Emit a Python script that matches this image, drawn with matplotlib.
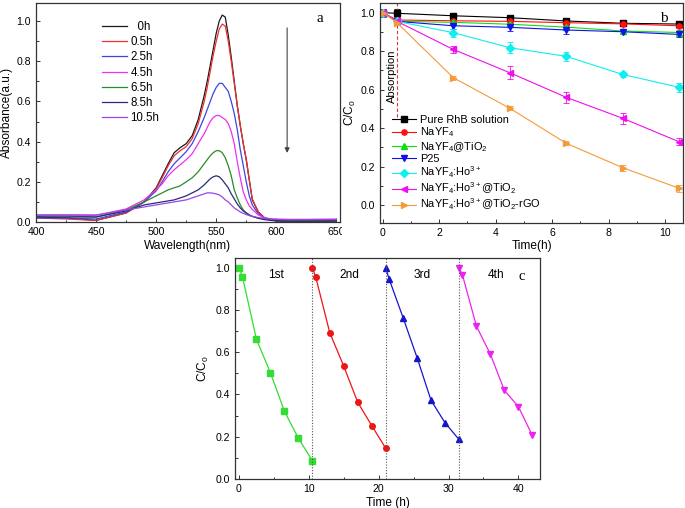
import matplotlib
matplotlib.use("Agg")
import matplotlib.pyplot as plt
from matplotlib.patches import Rectangle
from matplotlib.ticker import MultipleLocator

plt.rcParams['font.family'] = ['Liberation Sans', 'DejaVu Sans']
plt.rcParams['mathtext.fontset'] = 'custom'
plt.rcParams['mathtext.rm'] = 'Liberation Sans'
plt.rcParams['mathtext.it'] = 'Liberation Sans:italic'
plt.rcParams['mathtext.bf'] = 'Liberation Sans:bold'

# ---------------- Panel a: absorption spectra ----------------
wavelength = [400, 425, 450, 475, 490, 500, 505, 510, 515, 520, 525, 530, 535, 540, 542.5,
              545, 547.5, 550, 552.5, 555, 557.5, 560, 562.5, 565, 567.5, 570, 572.5, 575,
              577.5, 580, 585, 590, 595, 600, 610, 625, 650]
abs_0h = [0.025, 0.02, 0.008, 0.045, 0.10, 0.17, 0.23, 0.29, 0.345, 0.37, 0.39, 0.43, 0.51, 0.63, 0.70,
          0.78, 0.86, 0.94, 1.00, 1.03, 1.02, 0.93, 0.82, 0.70, 0.58, 0.48, 0.39, 0.31,
          0.21, 0.11, 0.05, 0.022, 0.012, 0.006, 0.003, 0.003, 0.005]
abs_05h = [0.02, 0.015, 0.008, 0.045, 0.10, 0.165, 0.22, 0.28, 0.33, 0.355, 0.375, 0.415, 0.49, 0.60, 0.67,
           0.75, 0.83, 0.90, 0.96, 0.985, 0.975, 0.90, 0.80, 0.69, 0.58, 0.48, 0.39, 0.31,
           0.21, 0.115, 0.05, 0.022, 0.012, 0.006, 0.004, 0.004, 0.005]
abs_25h = [0.02, 0.02, 0.015, 0.05, 0.10, 0.155, 0.20, 0.25, 0.29, 0.32, 0.35, 0.39, 0.45, 0.52, 0.56,
           0.60, 0.64, 0.67, 0.69, 0.69, 0.67, 0.65, 0.60, 0.54, 0.46, 0.36, 0.28, 0.20,
           0.13, 0.085, 0.04, 0.02, 0.01, 0.006, 0.005, 0.006, 0.008]
abs_45h = [0.035, 0.035, 0.033, 0.065, 0.11, 0.16, 0.19, 0.23, 0.26, 0.285, 0.31, 0.34, 0.39, 0.44, 0.47,
           0.50, 0.52, 0.53, 0.53, 0.52, 0.51, 0.49, 0.45, 0.39, 0.30, 0.22, 0.15, 0.11,
           0.08, 0.063, 0.035, 0.022, 0.016, 0.014, 0.013, 0.013, 0.014]
abs_65h = [0.03, 0.03, 0.025, 0.06, 0.10, 0.13, 0.145, 0.16, 0.17, 0.18, 0.20, 0.22, 0.25, 0.29, 0.31,
           0.33, 0.345, 0.355, 0.355, 0.345, 0.32, 0.28, 0.23, 0.16, 0.12, 0.085, 0.06, 0.045,
           0.035, 0.028, 0.02, 0.015, 0.012, 0.01, 0.008, 0.008, 0.01]
abs_85h = [0.025, 0.025, 0.025, 0.055, 0.085, 0.095, 0.10, 0.105, 0.11, 0.12, 0.13, 0.145, 0.16, 0.185, 0.20,
           0.215, 0.225, 0.23, 0.225, 0.21, 0.19, 0.17, 0.14, 0.115, 0.09, 0.07, 0.055, 0.045,
           0.035, 0.028, 0.018, 0.012, 0.008, 0.006, 0.004, 0.004, 0.005]
abs_105h = [0.035, 0.035, 0.035, 0.06, 0.075, 0.085, 0.09, 0.095, 0.10, 0.105, 0.11, 0.12, 0.13, 0.14, 0.145,
            0.145, 0.143, 0.14, 0.135, 0.125, 0.11, 0.10, 0.085, 0.07, 0.06, 0.05, 0.043, 0.037,
            0.032, 0.028, 0.022, 0.018, 0.015, 0.013, 0.012, 0.012, 0.013]
spectra_labels = ['  0h', '0.5h', '2.5h', '4.5h', '6.5h', '8.5h', '10.5h']
spectra_colors = ['#1a1a1a', '#ee3030', '#3a46e0', '#ee30ee', '#2a8a2a', '#2a2a7a', '#9a44ee']

# ---------------- Panel b: degradation curves ----------------
time_b = [0, 0.5, 2.5, 4.5, 6.5, 8.5, 10.5]
pure_rhb = [1.0, 0.997, 0.984, 0.974, 0.957, 0.945, 0.941]
nayf4 = [1.0, 0.962, 0.958, 0.955, 0.948, 0.942, 0.932]
nayf4_tio2 = [1.0, 0.955, 0.950, 0.940, 0.925, 0.905, 0.897]
p25 = [1.0, 0.955, 0.932, 0.924, 0.910, 0.901, 0.887]
nayf4_ho = [1.0, 0.955, 0.896, 0.818, 0.773, 0.679, 0.612]
nayf4_ho_tio2 = [1.0, 0.955, 0.809, 0.688, 0.560, 0.451, 0.329]
nayf4_ho_tio2_rgo = [1.0, 0.948, 0.662, 0.503, 0.321, 0.194, 0.087]
err_pure = [0.02, 0.02, 0.015, 0.015, 0.015, 0.012, 0.012]
err_nayf4 = [0.02, 0.015, 0.012, 0.012, 0.012, 0.012, 0.012]
err_nayf4_tio2 = [0.02, 0.015, 0.012, 0.012, 0.012, 0.012, 0.012]
err_p25 = [0.02, 0.015, 0.015, 0.02, 0.02, 0.012, 0.012]
err_ho = [0.02, 0.015, 0.02, 0.028, 0.022, 0.015, 0.022]
err_ho_tio2 = [0.02, 0.015, 0.02, 0.035, 0.028, 0.028, 0.018]
err_ho_rgo = [0.01, 0.01, 0.01, 0.01, 0.01, 0.015, 0.018]
labels_b = ['Pure RhB solution', 'NaYF$_4$', 'NaYF$_4$@TiO$_2$', 'P25', 'NaYF$_4$:Ho$^{3+}$',
            'NaYF$_4$:Ho$^{3+}$@TiO$_2$', 'NaYF$_4$:Ho$^{3+}$@TiO$_2$-rGO']
colors_b = ['#000000', '#ff1010', '#10dd10', '#1010ee', '#10eeee', '#ee10ee', '#f59a3a']
markers_b = ['s', 'o', '^', 'v', 'D', '<', '>']
absorption_end = 0.5
absorption_line_bottom = 0.46

# ---------------- Panel c: recycling ----------------
time_c1 = [0, 0.5, 2.5, 4.5, 6.5, 8.5, 10.5]
cycle1 = [1.0, 0.957, 0.661, 0.503, 0.321, 0.193, 0.087]
time_c2 = [10.5, 11, 13, 15, 17, 19, 21]
cycle2 = [1.0, 0.954, 0.692, 0.534, 0.363, 0.253, 0.146]
time_c3 = [21, 21.5, 23.5, 25.5, 27.5, 29.5, 31.5]
cycle3 = [1.0, 0.946, 0.763, 0.574, 0.372, 0.266, 0.187]
time_c4 = [31.5, 32, 34, 36, 38, 40, 42]
cycle4 = [1.0, 0.965, 0.723, 0.590, 0.419, 0.343, 0.206]
cycle_labels = ['1st', '2nd', '3rd', '4th']
cycle_colors = ['#33dd33', '#ee1515', '#1515cc', '#ee22ee']
cycle_markers = ['s', 'o', '^', 'v']
cycle_boundaries = [10.5, 21, 31.5]

W, H = 685, 508
fig = plt.figure(figsize=(W / 100, H / 100), dpi=100)

def rect(l, t, r, b):
    return [l / W, (H - b) / H, (r - l) / W, (b - t) / H]

def style(ax):
    for s in ax.spines.values():
        s.set_color('#333333')
        s.set_linewidth(0.9)
    ax.tick_params(which='both', direction='in', colors='#333333', labelcolor='black',
                   labelsize=7.6, width=0.7)
    ax.tick_params(which='major', length=3)
    ax.tick_params(which='minor', length=1.8)

# ---- a ----
axa = fig.add_axes(rect(36, 3, 340, 222))
spectra = [abs_0h, abs_05h, abs_25h, abs_45h, abs_65h, abs_85h, abs_105h]
for ys, lab, c in zip(spectra, spectra_labels, spectra_colors):
    axa.plot(wavelength, ys, color=c, lw=0.9, label=lab)
axa.set_xlim(400, 653)
axa.set_ylim(0, 1.09)
axa.xaxis.set_major_locator(MultipleLocator(50))
axa.xaxis.set_minor_locator(MultipleLocator(25))
axa.yaxis.set_major_locator(MultipleLocator(0.2))
axa.yaxis.set_minor_locator(MultipleLocator(0.1))
axa.yaxis.set_major_formatter(matplotlib.ticker.FormatStrFormatter('%.1f'))
style(axa)
axa.set_xlabel('Wavelength(nm)', fontsize=8.6, labelpad=2)
axa.set_ylabel('Absorbance(a.u.)', fontsize=8.6, labelpad=3)
axa.legend(loc='upper left', bbox_to_anchor=(0.19, 0.955), frameon=False, fontsize=8.3,
           handlelength=2.2, handletextpad=0.3, labelspacing=0.28, borderpad=0.2)
axa.annotate('', xy=(609, 0.33), xytext=(609, 0.98),
             arrowprops=dict(arrowstyle='-|>', color='#444444', lw=0.8, mutation_scale=7))
axa.text(0.935, 0.93, 'a', transform=axa.transAxes, fontsize=11, family='Liberation Serif',
         ha='center', va='center')

# ---- b ----
axb = fig.add_axes(rect(380, 2.7, 683.3, 222.7))
series_b = [pure_rhb, nayf4, nayf4_tio2, p25, nayf4_ho, nayf4_ho_tio2, nayf4_ho_tio2_rgo]
errs_b = [err_pure, err_nayf4, err_nayf4_tio2, err_p25, err_ho, err_ho_tio2, err_ho_rgo]
handles = []
for ys, es, lab, c, m in zip(series_b, errs_b, labels_b, colors_b, markers_b):
    eb = axb.errorbar(time_b, ys, yerr=es, color=c, marker=m, ms=3.8, lw=0.8, elinewidth=0.6,
                      capsize=2, capthick=0.6, label=lab)
    handles.append(eb[0])
axb.vlines(absorption_end, absorption_line_bottom, 1.06, colors='#dd3333', linestyles=(0, (3, 2)), lw=0.8)
axb.text(0.32, 0.67, 'Absorption', rotation=90, fontsize=8, ha='center', va='center')
axb.set_xlim(-0.1, 10.65)
axb.set_ylim(-0.092, 1.052)
axb.xaxis.set_major_locator(MultipleLocator(2))
axb.xaxis.set_minor_locator(MultipleLocator(1))
axb.yaxis.set_major_locator(MultipleLocator(0.2))
axb.yaxis.set_minor_locator(MultipleLocator(0.1))
axb.yaxis.set_major_formatter(matplotlib.ticker.FormatStrFormatter('%.1f'))
style(axb)
axb.set_xlabel('Time(h)', fontsize=8.6, labelpad=2)
axb.set_ylabel('C/C$_0$', fontsize=8.6, labelpad=2)
axb.legend(handles, labels_b, loc='upper left', bbox_to_anchor=(0.015, 0.525), frameon=False,
           fontsize=7.9, handlelength=2.2, handletextpad=0.35, labelspacing=0.05, borderpad=0.2)
axb.text(0.935, 0.93, 'b', transform=axb.transAxes, fontsize=11, family='Liberation Serif',
         ha='center', va='center')

# ---- c ----
axc = fig.add_axes(rect(235, 257.7, 540, 479))
cyc_t = [time_c1, time_c2, time_c3, time_c4]
cyc_y = [cycle1, cycle2, cycle3, cycle4]
for ts, ys, c, m in zip(cyc_t, cyc_y, cycle_colors, cycle_markers):
    axc.plot(ts, ys, color=c, marker=m, ms=4, lw=0.9)
for xb in cycle_boundaries:
    axc.axvline(xb, color='#555555', ls=(0, (1, 1.5)), lw=0.8)
for ts, lab in zip(cyc_t, cycle_labels):
    axc.text((ts[0] + ts[-1]) / 2, 0.965, lab, fontsize=8.6, ha='center', va='center')
axc.text(0.94, 0.915, 'c', transform=axc.transAxes, fontsize=10.5, family='Liberation Serif',
         ha='center', va='center')
axc.set_xlim(-0.57, 43.1)
axc.set_ylim(0, 1.047)
axc.xaxis.set_major_locator(MultipleLocator(10))
axc.xaxis.set_minor_locator(MultipleLocator(5))
axc.yaxis.set_major_locator(MultipleLocator(0.2))
axc.yaxis.set_minor_locator(MultipleLocator(0.1))
axc.yaxis.set_major_formatter(matplotlib.ticker.FormatStrFormatter('%.1f'))
style(axc)
axc.set_xlabel('Time (h)', fontsize=8.6, labelpad=2)
axc.set_ylabel('C/C$_0$', fontsize=8.6, labelpad=3)

# the composite crops panel a's last tick label
fig.add_artist(Rectangle((342 / W, (H - 248) / H), 36 / W, 24 / H, transform=fig.transFigure,
                         facecolor='white', edgecolor='none', zorder=5))

fig.savefig('out.png', dpi=100, facecolor='white')
